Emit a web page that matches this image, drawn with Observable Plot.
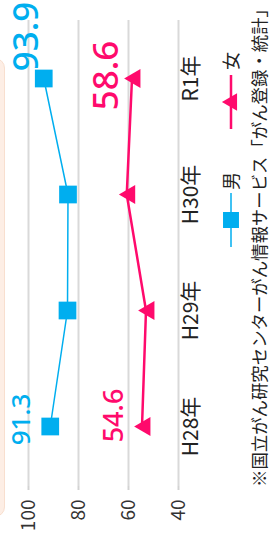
<!DOCTYPE html>
<html><head><meta charset="utf-8">
<script src="https://cdn.jsdelivr.net/npm/d3@7"></script>
<script src="https://cdn.jsdelivr.net/npm/@observablehq/plot@0.6"></script>
<style>
html,body{margin:0;padding:0;background:#fff;width:270px;height:539px;overflow:hidden;}
#rot{position:absolute;left:0;top:0;width:539px;height:270px;transform-origin:0 0;transform:translateY(539px) rotate(-90deg);font-family:"Noto Sans CJK JP","Noto Sans",sans-serif;overflow:hidden;background:#fff;}
#band{position:absolute;left:22px;top:-20px;width:457px;height:23px;border-radius:10px;background:#fdeee5;border:1px solid #f8dfcf;}
#chart{position:absolute;left:0;top:0;}
#legend{position:absolute;left:292px;top:218px;display:flex;align-items:center;font-size:18px;color:#222;line-height:24px;}
#legend .item{display:flex;align-items:center;}
#legend svg{display:block;}
#caption{position:absolute;left:52px;top:250px;font-size:17.4px;line-height:18px;white-space:nowrap;color:#222;}
</style></head><body>
<div id="rot">
  <div id="band"></div>
  <div id="chart"></div>
  <div id="legend"></div>
  <div id="caption"></div>
</div>
<script>
const years = ["H28年", "H29年", "H30年", "R1年"];
const male = [91.3, 84.4, 84.2, 93.9];
const female = [54.6, 53.0, 60.7, 58.6];
const yTicks = [40, 60, 80, 100];
const seriesNames = ["男", "女"];
const seriesColors = ["#00aeef", "#ff0a6c"];
const captionText = "※国立がん研究センターがん情報サービス「がん登録・統計」";

const rows = years.map((year, i) => ({year, male: male[i], female: female[i]}));
const first = [rows[0]];
const last = [rows[rows.length - 1]];
const blue = seriesColors[0], pink = seriesColors[1];
const fmt = v => v.toFixed(1);

const chart = Plot.plot({
  width: 539,
  height: 205,
  marginLeft: 53,
  marginRight: 20,
  marginTop: 28,
  marginBottom: 27,
  style: {fontFamily: '"Noto Sans CJK JP","Noto Sans",sans-serif', background: "transparent", overflow: "visible"},
  x: {type: "point", domain: years, padding: 0.5},
  y: {domain: [40, 100]},
  marks: [
    Plot.gridY(yTicks, {stroke: "#d9d9d9", strokeOpacity: 1, strokeWidth: 2}),
    Plot.axisY(yTicks, {line: true, tickSize: 4, tickPadding: 10, stroke: "#d2d2d2", strokeWidth: 2, color: "#333", fill: "#333", fontSize: 19, label: null}),
    Plot.axisX({tickSize: 0, tickPadding: 5, fontSize: 21, color: "#222", fill: "#222", label: null}),
    Plot.line(rows, {x: "year", y: "male", stroke: blue, strokeWidth: 1.5}),
    Plot.dot(rows, {x: "year", y: "male", symbol: "square", r: 10, fill: blue, stroke: null}),
    Plot.line(rows, {x: "year", y: "female", stroke: pink, strokeWidth: 2.5}),
    Plot.dot(rows, {x: "year", y: "female", symbol: "triangle", r: 7, fill: pink, stroke: null, dy: 3}),
    Plot.text(first, {x: "year", y: "male", text: d => fmt(d.male), fill: blue, fontSize: 26, fontWeight: 500, lineAnchor: "bottom", dx: 7, dy: -20, fontFamily: '"Noto Sans",sans-serif'}),
    Plot.text(last, {x: "year", y: "male", text: d => fmt(d.male), fill: blue, fontSize: 35, fontWeight: 500, lineAnchor: "bottom", dx: 42, dy: -6, fontFamily: '"Noto Sans",sans-serif'}),
    Plot.text(first, {x: "year", y: "female", text: d => fmt(d.female), fill: pink, fontSize: 27, fontWeight: 500, lineAnchor: "bottom", dx: 11, dy: -19, fontFamily: '"Noto Sans",sans-serif'}),
    Plot.text(last, {x: "year", y: "female", text: d => fmt(d.female), fill: pink, fontSize: 35, fontWeight: 500, lineAnchor: "bottom", dx: 3, dy: -14, fontFamily: '"Noto Sans",sans-serif'})
  ]
});
document.getElementById("chart").appendChild(chart);

// legend
const legend = d3.select("#legend");
const sym = [d3.symbolSquare, d3.symbolTriangle];
const symSize = [Math.PI * 9 * 9, Math.PI * 6.5 * 6.5];
const lineW = [1.5, 2.5];
seriesNames.forEach((name, i) => {
  const item = legend.append("div").attr("class", "item").style("margin-left", i ? "43px" : "0px");
  const svg = item.append("svg").attr("width", 54).attr("height", 24);
  svg.append("line").attr("x1", 0).attr("x2", 54).attr("y1", 13).attr("y2", 13)
    .attr("stroke", seriesColors[i]).attr("stroke-width", lineW[i]);
  svg.append("path").attr("d", d3.symbol(sym[i], symSize[i])())
    .attr("transform", `translate(27,${i ? 14 : 13})`).attr("fill", seriesColors[i]);
  item.append("span").text(name).style("margin-left", i ? "5px" : "3px");
});
document.getElementById("caption").textContent = captionText;
</script>
</body></html>
